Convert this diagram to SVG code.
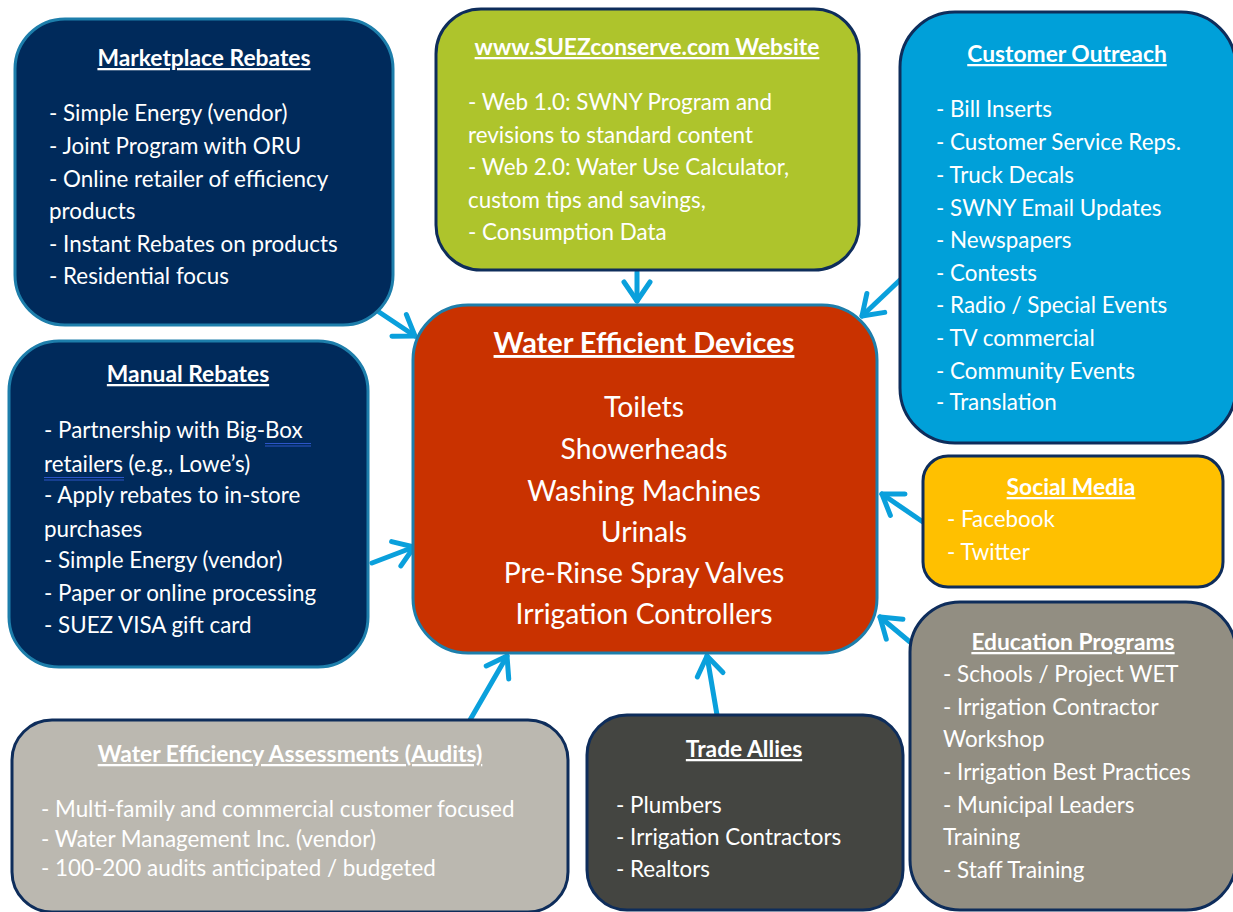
<svg xmlns="http://www.w3.org/2000/svg" width="1233" height="912" viewBox="0 0 1233 912">
  <defs>
    <style>
      text { font-family: Lato, "Liberation Sans", sans-serif; fill: #ffffff; }
      .t { font-size: 22.8px; font-weight: bold; text-anchor: middle; text-decoration: underline; }
      .b { font-size: 22.4px; }
      .ct { font-size: 28.9px; font-weight: bold; text-anchor: middle; text-decoration: underline; }
      .ci { font-size: 28.3px; text-anchor: middle; }
      .box { stroke-width: 3; }
      .teal { stroke: #1d7eab; }
      .navy { stroke: #0e2d5b; }
      .arrow { fill: none; stroke: #0aa0dc; stroke-width: 5; stroke-linecap: round; marker-end: url(#head); }
      .spell { stroke: #2c55c8; stroke-width: 1.2; }
    </style>
    <marker id="head" viewBox="-24 -16 28 32" refX="0" refY="0" markerWidth="28" markerHeight="32" markerUnits="userSpaceOnUse" orient="auto" overflow="visible">
      <path d="M-19,-13 L0,0 L-19,13" fill="none" stroke="#0aa0dc" stroke-width="5" stroke-linecap="round" stroke-linejoin="round"/>
    </marker>
  </defs>

  <rect width="1233" height="912" fill="#ffffff"/>

  <!-- connectors: every program feeds the central device list -->
  <g id="connectors">
    <path class="arrow" d="M376,310 L415,336"/>
    <path class="arrow" d="M637,272 L637,301"/>
    <path class="arrow" d="M900,280 L862,316"/>
    <path class="arrow" d="M372,563 L414,547"/>
    <path class="arrow" d="M923,522 L882,494"/>
    <path class="arrow" d="M910,642 L880,617"/>
    <path class="arrow" d="M470,720 L507,656"/>
    <path class="arrow" d="M717,715 L707,656"/>
  </g>

  <g id="marketplace-rebates">
    <rect class="box teal" x="15" y="19" width="378" height="306" rx="50" fill="#002a5b"/>
    <text class="t" x="204" y="66">Marketplace Rebates</text>
    <text class="b" x="49" y="121">- Simple Energy (vendor)</text>
    <text class="b" x="49" y="154">- Joint Program with ORU</text>
    <text class="b" x="49" y="187">- Online retailer of efficiency</text>
    <text class="b" x="49" y="219">products</text>
    <text class="b" x="49" y="252">- Instant Rebates on products</text>
    <text class="b" x="49" y="284">- Residential focus</text>
  </g>

  <g id="website">
    <rect class="box navy" x="436" y="9" width="423" height="261" rx="45" fill="#aec42c"/>
    <text class="t" x="647" y="55">www.SUEZconserve.com Website</text>
    <text class="b" x="468" y="110">- Web 1.0: SWNY Program and</text>
    <text class="b" x="468" y="143">revisions to standard content</text>
    <text class="b" x="468" y="175">- Web 2.0: Water Use Calculator,</text>
    <text class="b" x="468" y="208">custom tips and savings,</text>
    <text class="b" x="468" y="240">- Consumption Data</text>
  </g>

  <g id="customer-outreach">
    <rect class="box navy" x="900" y="12" width="336" height="431" rx="55" fill="#00a0d9"/>
    <text class="t" x="1067" y="62">Customer Outreach</text>
    <text class="b" x="936" y="117">- Bill Inserts</text>
    <text class="b" x="936" y="150">- Customer Service Reps.</text>
    <text class="b" x="936" y="183">- Truck Decals</text>
    <text class="b" x="936" y="216">- SWNY Email Updates</text>
    <text class="b" x="936" y="248">- Newspapers</text>
    <text class="b" x="936" y="281">- Contests</text>
    <text class="b" x="936" y="313">- Radio / Special Events</text>
    <text class="b" x="936" y="346">- TV commercial</text>
    <text class="b" x="936" y="379">- Community Events</text>
    <text class="b" x="936" y="410">- Translation</text>
  </g>

  <g id="manual-rebates">
    <rect class="box teal" x="9" y="341" width="359" height="326" rx="50" fill="#002a5b"/>
    <text class="t" x="188" y="382">Manual Rebates</text>
    <text class="b" x="44" y="438">- Partnership with Big-Box </text>
    <text class="b" x="44" y="472">retailers (e.g., Lowe’s)</text>
    <text class="b" x="44" y="503">- Apply rebates to in-store</text>
    <text class="b" x="44" y="537">purchases</text>
    <text class="b" x="44" y="568">- Simple Energy (vendor)</text>
    <text class="b" x="44" y="601">- Paper or online processing</text>
    <text class="b" x="44" y="633">- SUEZ VISA gift card</text>
    <line class="spell" x1="265" y1="443.5" x2="311" y2="443.5"/>
    <line class="spell" x1="265" y1="446" x2="311" y2="446"/>
    <line class="spell" x1="44" y1="477.5" x2="124" y2="477.5"/>
    <line class="spell" x1="44" y1="480" x2="124" y2="480"/>
  </g>

  <g id="water-efficient-devices">
    <rect class="box teal" x="413" y="305" width="464" height="348" rx="55" fill="#c93200"/>
    <text class="ct" x="644" y="353">Water Efficient Devices</text>
    <text class="ci" x="644" y="417">Toilets</text>
    <text class="ci" x="644" y="459">Showerheads</text>
    <text class="ci" x="644" y="501">Washing Machines</text>
    <text class="ci" x="644" y="542">Urinals</text>
    <text class="ci" x="644" y="583">Pre-Rinse Spray Valves</text>
    <text class="ci" x="644" y="624">Irrigation Controllers</text>
  </g>

  <g id="social-media">
    <rect class="box navy" x="923" y="456" width="300" height="131" rx="25" fill="#ffc000"/>
    <text class="t" x="1071" y="495">Social Media</text>
    <text class="b" x="947" y="527">- Facebook</text>
    <text class="b" x="947" y="560">- Twitter</text>
  </g>

  <g id="education-programs">
    <rect class="box navy" x="910" y="602" width="326" height="308" rx="50" fill="#928e82"/>
    <text class="t" x="1073" y="650">Education Programs</text>
    <text class="b" x="943" y="682">- Schools / Project WET</text>
    <text class="b" x="943" y="715">- Irrigation Contractor</text>
    <text class="b" x="943" y="747">Workshop</text>
    <text class="b" x="943" y="780">- Irrigation Best Practices</text>
    <text class="b" x="943" y="813">- Municipal Leaders</text>
    <text class="b" x="943" y="845">Training</text>
    <text class="b" x="943" y="878">- Staff Training</text>
  </g>

  <g id="water-efficiency-assessments">
    <rect class="box navy" x="12" y="720" width="556" height="192" rx="40" fill="#bbb8b0"/>
    <text class="t" x="290" y="762">Water Efficiency Assessments (Audits)</text>
    <text class="b" x="41" y="817">- Multi-family and commercial customer focused</text>
    <text class="b" x="41" y="847">- Water Management Inc. (vendor)</text>
    <text class="b" x="41" y="876">- 100-200 audits anticipated / budgeted</text>
  </g>

  <g id="trade-allies">
    <rect class="box navy" x="587" y="715" width="316" height="195" rx="40" fill="#444541"/>
    <text class="t" x="744" y="757">Trade Allies</text>
    <text class="b" x="616" y="813">- Plumbers</text>
    <text class="b" x="616" y="845">- Irrigation Contractors</text>
    <text class="b" x="616" y="877">- Realtors</text>
  </g>
</svg>
